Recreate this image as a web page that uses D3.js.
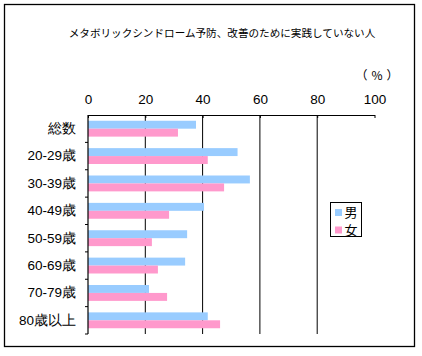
<!DOCTYPE html>
<html><head><meta charset="utf-8">
<script src="https://cdn.jsdelivr.net/npm/d3@7"></script>
<style>
html,body{margin:0;padding:0;background:#fff;}
svg{display:block;font-family:"Noto Sans CJK JP","Noto Sans",sans-serif;}
</style></head>
<body><svg id="c" width="422" height="356"></svg>
<script>
const title = "メタボリックシンドローム予防、改善のために実践していない人";
const unitLabel = "（%）";
const categories = ["総数","20-29歳","30-39歳","40-49歳","50-59歳","60-69歳","70-79歳","80歳以上"];
const seriesNames = ["男","女"];
const maleValues = [37.7, 52.2, 56.5, 40.5, 34.6, 33.9, 21.3, 41.8];
const femaleValues = [31.4, 41.8, 47.5, 28.3, 22.3, 24.4, 27.6, 46.1];
const xTicks = [0, 20, 40, 60, 80, 100];
const colors = ["#99CCFF", "#FF99CC"];

const svg = d3.select("#c");
const pL = 88, pR = 374.5, pT = 115, pB = 334;

svg.append("rect").attr("x",4.5).attr("y",4.5).attr("width",410).attr("height",342)
  .attr("fill","#fff").attr("stroke","#000").attr("stroke-width",1.3);

svg.append("text").attr("x",222).attr("y",37).attr("text-anchor","middle")
  .attr("font-size",10.6).attr("fill","#000").text(title);

svg.append("text").attr("x",379).attr("y",80).attr("text-anchor","middle")
  .attr("font-size",12).attr("letter-spacing",4).attr("fill","#000").text(unitLabel);

const x = d3.scaleLinear().domain([0,100]).range([pL,pR]);
const y = d3.scaleBand().domain(categories).range([pT,pB]).paddingInner(0.42).paddingOuter(0.21);
const ys = d3.scaleBand().domain(seriesNames).range([0,y.bandwidth()]);

// gridlines
svg.append("g").selectAll("line").data(xTicks.filter(v=>v>0 && v<100)).join("line")
  .attr("x1",d=>x(d)).attr("x2",d=>x(d)).attr("y1",pT).attr("y2",pB)
  .attr("stroke","#000").attr("stroke-width",1);

// bars
const data = categories.map((c,i)=>({c, vals:[maleValues[i], femaleValues[i]]}));
const g = svg.append("g").selectAll("g").data(data).join("g")
  .attr("transform",d=>`translate(0,${y(d.c)})`);
g.selectAll("rect").data(d=>d.vals.map((v,j)=>({v, s:seriesNames[j], j}))).join("rect")
  .attr("x",x(0)).attr("y",d=>ys(d.s)).attr("width",d=>x(d.v)-x(0)).attr("height",ys.bandwidth())
  .attr("fill",d=>colors[d.j]);

// top axis
const xa = svg.append("g").attr("transform",`translate(0,${pT})`)
  .call(d3.axisTop(x).tickValues(xTicks).tickSizeInner(-3).tickSizeOuter(0).tickPadding(11));
xa.select(".domain").attr("stroke","#000").attr("stroke-width",1.2);
xa.selectAll(".tick line").attr("stroke","#000");
xa.selectAll("text").attr("font-family","'Liberation Sans',Arial,sans-serif").attr("font-size",13.5).attr("fill","#000");

// left axis
const ya = svg.append("g").attr("transform",`translate(${pL},0)`)
  .call(d3.axisLeft(y).tickSize(0).tickPadding(12));
ya.select(".domain").remove();
ya.selectAll("text").attr("font-size",13.5).attr("fill","#000");
svg.append("line").attr("x1",pL).attr("x2",pL).attr("y1",pT).attr("y2",pB)
  .attr("stroke","#000").attr("stroke-width",1.2);
const step = y.step();
svg.append("g").selectAll("line").data(d3.range(1,categories.length+1)).join("line")
  .attr("x1",pL-3).attr("x2",pL).attr("y1",k=>pT+k*step).attr("y2",k=>pT+k*step)
  .attr("stroke","#000");

// legend
const lg = svg.append("g").attr("transform","translate(330.5,202.5)");
lg.append("rect").attr("width",31).attr("height",34).attr("fill","#fff").attr("stroke","#000").attr("stroke-width",1);
seriesNames.forEach((s,i)=>{
  lg.append("rect").attr("x",4.5).attr("y",6.5+i*17.5).attr("width",7).attr("height",7).attr("fill",colors[i]);
  lg.append("text").attr("x",14).attr("y",10+i*17.5).attr("dy","0.36em").attr("font-size",13).attr("fill","#000").text(s);
});
</script></body></html>
